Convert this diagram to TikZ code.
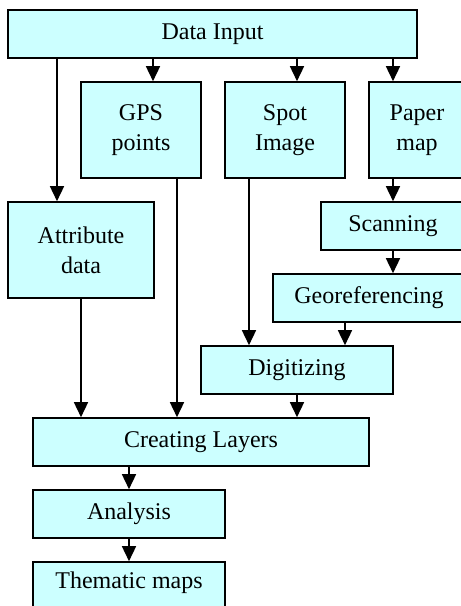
\documentclass[tikz,border=0pt]{standalone}
\usepackage{fontspec}
\setmainfont{Liberation Serif}
\usepackage{xcolor}
\usetikzlibrary{arrows.meta}
\definecolor{boxfill}{RGB}{204,255,255}

\begin{document}
\begin{tikzpicture}
[
  x=1pt,y=-1pt,
  font=\fontsize{24}{30}\selectfont,
	stepbox/.style={draw,line width=1.6pt,fill=boxfill,inner sep=0pt,align=center},
	arr/.style={line width=1.5pt,-{Triangle[width=14pt,length=15pt]}}
]
\path[use as bounding box] (0,0) rectangle (461,606);

\node[stepbox,minimum width=409,minimum height=48] (input) at (212.5,34) {Data Input};

\node[stepbox,minimum width=120,minimum height=96] (gps) at (141,130) {GPS\\points};
\node[stepbox,minimum width=120,minimum height=96] (spot) at (285,130) {Spot\\Image};
\node[stepbox,minimum width=96,minimum height=96] (paper) at (417,130) {Paper\\map};

\node[stepbox,minimum width=146,minimum height=96] (attr) at (81,250) {Attribute\\data};
\node[stepbox,minimum width=144,minimum height=48] (scan) at (393,226) {Scanning};
\node[stepbox,minimum width=192,minimum height=48] (georef) at (369,298) {Georeferencing};
\node[stepbox,minimum width=192,minimum height=48] (digit) at (297,370) {Digitizing};

\node[stepbox,minimum width=336,minimum height=48] (layers) at (201,442) {Creating Layers};
\node[stepbox,minimum width=192,minimum height=48] (analysis) at (129,514) {Analysis};
\node[stepbox,minimum width=192,minimum height=48,text depth=12pt] (thematic) at (129,586) {Thematic maps};

\draw[arr] ([xshift=-24pt]attr.north |- input.south) -- ([xshift=-24pt]attr.north);
\draw[arr] ([xshift=12pt]gps.north |- input.south) -- ([xshift=12pt]gps.north);
\draw[arr] ([xshift=12pt]spot.north |- input.south) -- ([xshift=12pt]spot.north);
\draw[arr] ([xshift=-24pt]paper.north |- input.south) -- ([xshift=-24pt]paper.north);

\draw[arr] ([xshift=-24pt]paper.south) -- (scan.north);
\draw[arr] (scan.south) -- (scan.south |- georef.north);
\draw[arr] ([xshift=-24pt]georef.south) -- ([xshift=-24pt]georef.south |- digit.north);
\draw[arr] ([xshift=-36pt]spot.south) -- ([xshift=-36pt]spot.south |- digit.north);

\draw[arr] (attr.south) -- (attr.south |- layers.north);
\draw[arr] ([xshift=36pt]gps.south) -- ([xshift=36pt]gps.south |- layers.north);
\draw[arr] (digit.south) -- (digit.south |- layers.north);

\draw[arr] (analysis.north |- layers.south) -- (analysis.north);
\draw[arr] (analysis.south) -- (thematic.north);
\end{tikzpicture}
\end{document}
